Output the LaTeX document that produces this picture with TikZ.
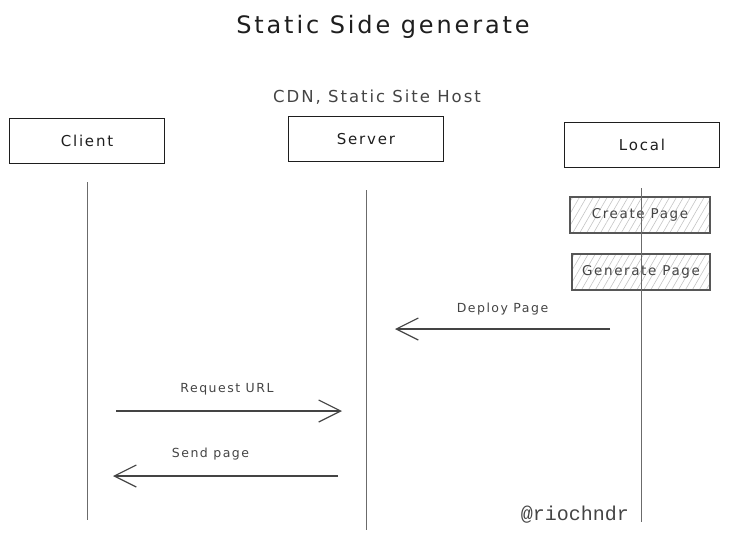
\documentclass[tikz,border=0pt]{standalone}
\usepackage{fontspec}
\setmainfont{DejaVu Sans}[LetterSpace=12]
\setmonofont{Liberation Mono}
\usetikzlibrary{arrows.meta,positioning,patterns.meta}
\definecolor{ink}{HTML}{1E1E1E}
\definecolor{line}{HTML}{6B6B6B}
\definecolor{hatch}{HTML}{C4C4C4}
\definecolor{soft}{HTML}{444444}

\begin{document}
\begin{tikzpicture}[x=1pt,y=-1pt,
    actor/.style={draw=ink,line width=1.3pt,minimum width=155pt,minimum height=45pt,inner sep=0pt,font=\fontsize{15}{18}\selectfont,text=ink},
    task/.style={draw=soft!90,line width=1.3pt,pattern={Lines[angle=60,distance=6pt,line width=0.6pt]},pattern color=hatch,minimum height=36pt,inner sep=0pt,font=\fontsize{13.5}{16}\selectfont,text=soft},
    life/.style={draw=line,line width=1pt},
    msg/.style={draw=soft,line width=1.2pt,-{Straight Barb[length=22pt,width=22pt,line width=1.2pt]}},
    lbl/.style={font=\fontsize{12.5}{14}\selectfont,text=soft}]
  \useasboundingbox (0,0) rectangle (731,541);
  \node[font=\fontsize{24}{27}\selectfont,text=ink] (title) at (383,27) {Static Side generate};
  \node[font=\fontsize{16.5}{19}\selectfont,text=soft] (host) at (377,97) {CDN, Static Site Host};
  \node[actor] (client) at (87,141) {Client};
  \node[actor] (server) at (366,139) {Server};
  \node[actor] (local) at (642,145) {Local};
  \coordinate (clientB) at (87,520);
  \coordinate (serverB) at (366,530);
  \coordinate (localB) at (641,522);
  \draw[life] (87,182) -- (clientB);
  \draw[life] (366,190) -- (serverB);
  \node[task,minimum width=140pt] (create) at (640,215) {Create Page};
  \node[task,minimum width=138pt] (gen) at (641,272) {Generate Page};
  \draw[life] (641,188) -- (localB);
  \coordinate (deployA) at (610,329);
  \coordinate (deployB) at (395,329);
  \coordinate (reqA) at (116,411);
  \coordinate (reqB) at (342,411);
  \coordinate (sendA) at (338,476);
  \coordinate (sendB) at (113,476);
  \draw[msg] (deployA) -- (deployB) node[lbl,midway,above=10pt] {Deploy Page};
  \draw[msg] (reqA) -- (reqB) node[lbl,midway,above=12pt,xshift=-2pt] {Request URL};
  \draw[msg] (sendA) -- (sendB) node[lbl,midway,above=12pt,xshift=-15pt] {Send page};
  \node[font=\ttfamily\fontsize{20}{22}\selectfont,text=soft] (tag) at (575,515) {@riochndr};
\end{tikzpicture}
\end{document}
